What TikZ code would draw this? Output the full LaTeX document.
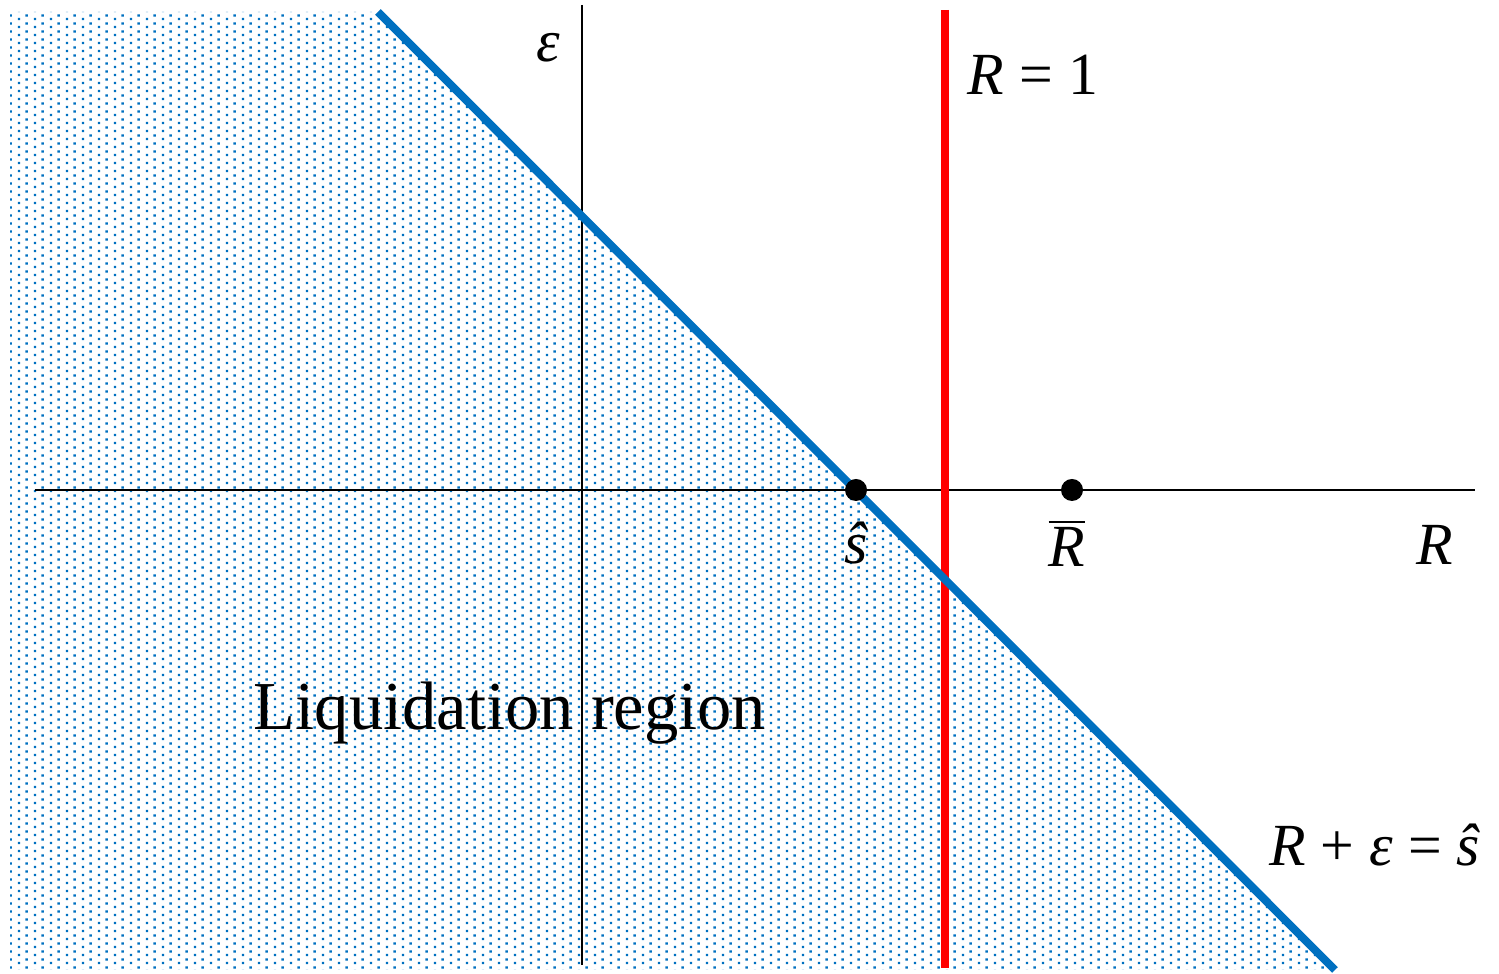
\documentclass[tikz,border=0pt]{standalone}
\usepackage{fontspec}
\setmainfont{Liberation Serif}[
  ItalicFont={Liberation Serif Italic},
  BoldFont={Liberation Serif Bold}]
\usepackage{tikz}
\usetikzlibrary{positioning,patterns.meta}
\definecolor{lineblue}{RGB}{0,112,192}
\definecolor{linered}{RGB}{255,0,0}
\tikzdeclarepattern{
  name=liqdots,
  type=uncolored,
  bottom left={(0mm,0mm)},
  top right={(1.6mm,0.8mm)},
  tile size={(1.6mm,0.8mm)},
  code={
    \fill (0.2mm,0.2mm) rectangle (0.45mm,0.45mm);
    \fill (1.0mm,0.6mm) rectangle (1.25mm,0.85mm);
  }
}

\begin{document}
\begin{tikzpicture}[
    x=0.01cm, y=-0.01cm,
    axis/.style={draw, line width=0.2mm},
    boundary/.style={draw=lineblue, line width=0.8mm},
    threshold/.style={draw=linered, line width=0.8mm},
    pt/.style={circle, fill=black, inner sep=0pt, minimum size=2.2mm},
    lbl/.style={font=\fontsize{17}{20}\selectfont, inner sep=0pt},
    region/.style={font=\fontsize{19.5}{22}\selectfont, inner sep=0pt}
]
\useasboundingbox (0,0) rectangle (1499,974);

% Coordinates
\coordinate (origin) at (582,490);
\coordinate (xleft) at (35,490);
\coordinate (xright) at (1475,490);
\coordinate (ytop) at (582,5);
\coordinate (ybot) at (582,965);
\coordinate (redtop) at (945,10);
\coordinate (redbot) at (945,968);
\coordinate (bluetop) at (378,12);
\coordinate (bluebot) at (1335,970);

% Shaded region
\fill[pattern=liqdots, pattern color=lineblue]
  (10,12) -- (bluetop) -- (bluebot) -- (10,970) -- cycle;

% Axes
\path[axis] (xleft) -- (xright);
\path[axis] (ytop) -- (ybot);

% Lines
\path[threshold] (redtop) -- (redbot);
\path[boundary] (bluetop) -- (bluebot);

% Points
\node[pt] (shat) at (856,490) {};
\node[pt] (rbar) at (1072,490) {};

% Labels
\node[lbl] (shatlbl) at (856,543) {\textit{ŝ}};
\node[lbl] (rbarlbl) at (1067,543) {$\overline{\hbox{\textit{R}}}$};
\node[lbl] (rlbl) at (1435,545) {\textit{R}};
\node[lbl] (epslbl) at (548,48) {\textit{ε}};
\node[lbl] (onelbl) at (1033,75) {\textit{R} = 1};
\node[lbl] (linelbl) at (1375,845) {\textit{R} + \textit{ε} = \textit{ŝ}};
\node[region] (liq) at (510,713) {Liquidation region};

\end{tikzpicture}
\end{document}
